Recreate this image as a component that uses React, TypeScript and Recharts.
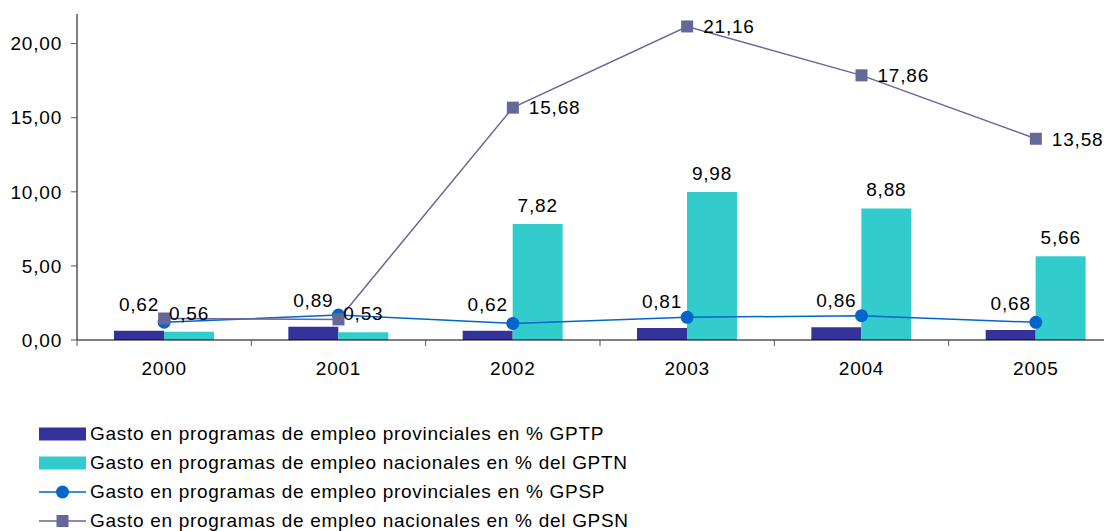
import React from "react";
import {
  ComposedChart,
  Bar,
  Line,
  XAxis,
  YAxis,
  Legend,
  LabelList,
} from "recharts";

const years = ["2000", "2001", "2002", "2003", "2004", "2005"];
const gptp = [0.62, 0.89, 0.62, 0.81, 0.86, 0.68];
const gptn = [0.56, 0.53, 7.82, 9.98, 8.88, 5.66];
const gpsp = [1.2, 1.68, 1.12, 1.53, 1.64, 1.19];
const gpsn = [1.45, 1.39, 15.68, 21.16, 17.86, 13.58];
const gpsnLabelShown = [false, false, true, true, true, true];
const yTicks = [0, 5, 10, 15, 20];

const seriesNames = [
  "Gasto en programas de empleo provinciales en % GPTP",
  "Gasto en programas de empleo nacionales en % del GPTN",
  "Gasto en programas de empleo provinciales en % GPSP",
  "Gasto en programas de empleo nacionales en % del GPSN",
];
const COLORS = ["#333399", "#33CCCC", "#0066CC", "#666699"];

const data = years.map((y, i) => ({
  year: y,
  gptp: gptp[i],
  gptn: gptn[i],
  gpsp: gpsp[i],
  gpsn: gpsn[i],
}));

const FONT = "'Liberation Sans', Arial, sans-serif";
const fmt = (v: number) => v.toFixed(2).replace(".", ",");

const XTick = (props: any) => {
  const { x, y, payload, width } = props;
  const band = width / years.length;
  const bx = x - band / 2;
  return (
    <g>
      <line x1={bx} y1={y} x2={bx} y2={y + 6} stroke="#555" strokeWidth={1} />
      <text
        x={x}
        y={y + 22}
        dy="0.71em"
        textAnchor="middle"
        fill="#000"
        fontSize={19}
        fontFamily={FONT}
        letterSpacing={0.8}
      >
        {payload.value}
      </text>
    </g>
  );
};

const SquareDot = (props: any) => {
  const { cx, cy, index } = props;
  if (cx == null || cy == null) return <g key={`sq-${index}`} />;
  return (
    <rect key={`sq-${index}`} x={cx - 6} y={cy - 6} width={12} height={12} fill={COLORS[3]} />
  );
};

const GpsnLabel = (props: any) => {
  const { x, y, value, index } = props;
  if (!gpsnLabelShown[index]) return null;
  return (
    <text
      x={x + 16}
      y={y}
      dy="0.36em"
      textAnchor="start"
      fill="#000"
      fontSize={19}
      fontFamily={FONT}
      letterSpacing={0.8}
    >
      {fmt(value)}
    </text>
  );
};

const BarLabel = (offset: number) => (props: any) => {
  const { x, y, width, value } = props;
  return (
    <text
      x={x + width / 2}
      y={y - offset}
      textAnchor="middle"
      fill="#000"
      fontSize={19}
      fontFamily={FONT}
      letterSpacing={0.8}
    >
      {fmt(value)}
    </text>
  );
};

const LegendContent = () => (
  <div style={{ fontFamily: FONT, fontSize: 19, letterSpacing: 0.7, color: "#000" }}>
    {seriesNames.map((name, i) => (
      <div
        key={name}
        style={{ display: "flex", alignItems: "center", height: 29, whiteSpace: "nowrap" }}
      >
        <svg width={51} height={16} style={{ flex: "none" }}>
          {i < 2 ? (
            <rect x={0} y={1.5} width={47} height={13} fill={COLORS[i]} />
          ) : (
            <g>
              <line x1={0} y1={8} x2={47} y2={8} stroke={COLORS[i]} strokeWidth={1.5} />
              {i === 2 ? (
                <circle cx={23.5} cy={8} r={6.5} fill={COLORS[i]} />
              ) : (
                <rect x={17.5} y={2} width={12} height={12} fill={COLORS[i]} />
              )}
            </g>
          )}
        </svg>
        <span>{name}</span>
      </div>
    ))}
  </div>
);

export default function App() {
  return (
    <div style={{ width: 1104, height: 523, overflow: "hidden", position: "relative" }}>
      <ComposedChart
        width={1115}
        height={523}
        data={data}
        margin={{ top: 6, right: 0, bottom: 161, left: 0 }}
        barGap={0}
      >
        <XAxis
          dataKey="year"
          axisLine={{ stroke: "#000", strokeWidth: 1 }}
          tickLine={false}
          tickSize={0}
          tickMargin={0}
          height={30}
          interval={0}
          tick={<XTick />}
        />
        <YAxis
          domain={[0, 22]}
          ticks={yTicks}
          width={69}
          axisLine={{ stroke: "#000", strokeWidth: 1 }}
          tickLine={{ stroke: "#555" }}
          tickSize={6}
          tickMargin={9}
          tickFormatter={(v: number) => fmt(v)}
          tick={{ fill: "#000", fontSize: 19, fontFamily: FONT, letterSpacing: 0.8 }}
          allowDataOverflow
        />
        <Legend
          layout="horizontal"
          verticalAlign="middle"
          align="center"
          content={<LegendContent />}
          wrapperStyle={{ top: 411, left: 31, width: 720, height: 120 }}
        />
        <Bar dataKey="gptp" name={seriesNames[0]} fill={COLORS[0]} barSize={50} isAnimationActive={false}>
          <LabelList dataKey="gptp" content={BarLabel(20)} />
        </Bar>
        <Bar dataKey="gptn" name={seriesNames[1]} fill={COLORS[1]} barSize={50} isAnimationActive={false}>
          <LabelList dataKey="gptn" content={BarLabel(12)} />
        </Bar>
        <Line
          dataKey="gpsp"
          name={seriesNames[2]}
          type="linear"
          stroke={COLORS[2]}
          strokeWidth={1.5}
          dot={{ r: 6.5, fill: COLORS[2], stroke: COLORS[2], strokeWidth: 0 }}
          activeDot={false}
          isAnimationActive={false}
        />
        <Line
          dataKey="gpsn"
          name={seriesNames[3]}
          type="linear"
          stroke={COLORS[3]}
          strokeWidth={1.5}
          dot={SquareDot}
          activeDot={false}
          isAnimationActive={false}
        >
          <LabelList dataKey="gpsn" content={GpsnLabel} />
        </Line>
      </ComposedChart>
    </div>
  );
}
